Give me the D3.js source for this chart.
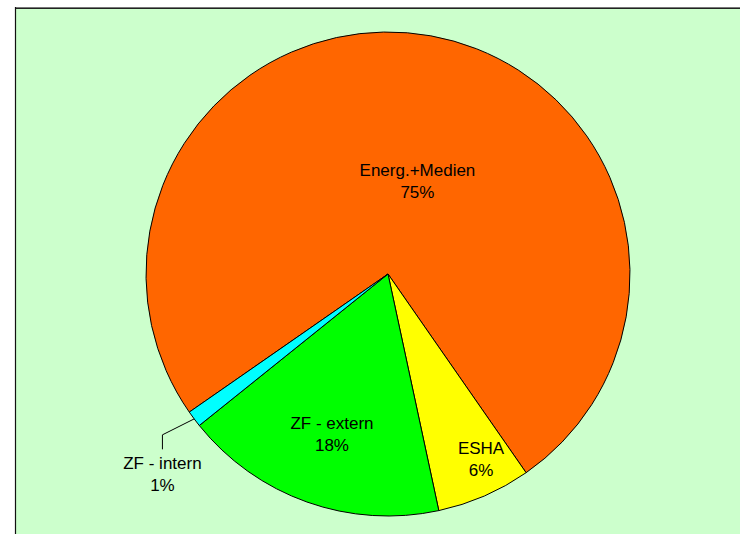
<!DOCTYPE html>
<html>
<head>
<meta charset="utf-8">
<script src="https://cdn.jsdelivr.net/npm/d3@7"></script>
<style>
  html, body { margin: 0; padding: 0; background: #ffffff; }
  svg { display: block; }
  text { font-family: "Liberation Sans", Arial, sans-serif; fill: #000; }
</style>
</head>
<body>
<svg id="chart" width="740" height="534"></svg>
<script>
// ---- data ----
const categories = ["Energ.+Medien", "ESHA", "ZF - extern", "ZF - intern"];
const values = [75.0, 6.3, 17.6, 1.1];
const colors = ["#FF6600", "#FFFF00", "#00FF00", "#00FFFF"];

// ---- layout (label placement relative to slice mid-angle) ----
const labelRadius = [0.40, 0.857, 0.704, 1.248];   // fraction of pie radius
const labelAngleShift = [7.5, -3.2, -0.35, -4.9];  // degrees
const outside = [false, false, false, true];

const W = 740, H = 534;
const cx = 388, cy = 274, R = 242;
const deg = Math.PI / 180;
const startDeg = -124.8;

const svg = d3.select("#chart");

// background plot area
svg.append("rect").attr("x", 15).attr("y", 7).attr("width", W - 15).attr("height", H - 7)
  .attr("fill", "#CCFFCC");
svg.append("line").attr("x1", 15).attr("x2", W).attr("y1", 7.5).attr("y2", 7.5)
  .attr("stroke", "#777").attr("stroke-width", 1);
svg.append("line").attr("x1", 15).attr("x2", W).attr("y1", 8.5).attr("y2", 8.5)
  .attr("stroke", "#222").attr("stroke-width", 1);
svg.append("line").attr("x1", 15.5).attr("x2", 15.5).attr("y1", 7).attr("y2", H)
  .attr("stroke", "#111").attr("stroke-width", 1.2);

const data = categories.map((c, i) => ({ name: c, value: values[i], color: colors[i], idx: i }));
const total = d3.sum(values);
const pct = d3.format(".0%");

const pie = d3.pie().value(d => d.value).sort(null)
  .startAngle(startDeg * deg).endAngle(startDeg * deg + 2 * Math.PI);
const arcs = pie(data);
const arc = d3.arc().innerRadius(0).outerRadius(R);

const g = svg.append("g").attr("transform", `translate(${cx},${cy})`);

g.selectAll("path.slice").data(arcs).enter().append("path")
  .attr("class", "slice")
  .attr("d", arc)
  .attr("fill", d => d.data.color)
  .attr("stroke", "#000")
  .attr("stroke-width", 1)
  .attr("stroke-linejoin", "round");

function polar(angle, r) {
  return [r * Math.sin(angle), -r * Math.cos(angle)];
}

arcs.forEach(a => {
  const i = a.data.idx;
  const mid = (a.startAngle + a.endAngle) / 2;
  const [lx, ly] = polar(mid + labelAngleShift[i] * deg, R * labelRadius[i]);
  const t = g.append("text").attr("text-anchor", "middle").attr("font-size", "17px");
  t.append("tspan").attr("x", lx).attr("y", ly - 5.5).text(a.data.name);
  t.append("tspan").attr("x", lx).attr("y", ly + 16.2).text(pct(a.data.value / total));
  if (outside[i]) {
    const [ex, ey] = polar(mid, R);
    const elbowY = ly - 40;
    const endY = ly - 25.5;
    g.append("polyline")
      .attr("points", `${ex},${ey} ${lx},${elbowY} ${lx},${endY}`)
      .attr("fill", "none").attr("stroke", "#000").attr("stroke-width", 1);
  }
});
</script>
</body>
</html>
